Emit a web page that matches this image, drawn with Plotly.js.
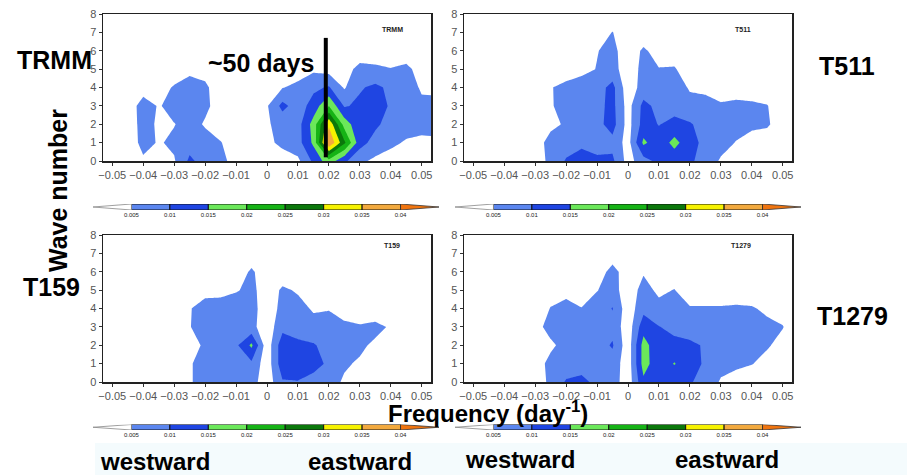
<!DOCTYPE html>
<html><head><meta charset="utf-8">
<script src="https://cdn.plot.ly/plotly-3.0.1.min.js"></script>
<style>html,body{margin:0;padding:0;background:#fff;}#chart{width:907px;height:475px;}</style>
</head><body><div id="chart"></div>
<script>
// ---------- data ----------
const freq = [-0.055,-0.05,-0.045,-0.04,-0.035,-0.03,-0.025,-0.02,-0.015,-0.01,-0.005,0,0.005,0.01,0.015,0.02,0.025,0.03,0.035,0.04,0.045,0.05,0.055];
const waveNumbers = [0,1,2,3,4,5,6,7,8];
const freqTickVals = [-0.05,-0.04,-0.03,-0.02,-0.01,0,0.01,0.02,0.03,0.04,0.05];
const freqTickText = ["\u22120.05","\u22120.04","\u22120.03","\u22120.02","\u22120.01","0","0.01","0.02","0.03","0.04","0.05"];
const waveTickVals = [0,1,2,3,4,5,6,7,8];
const levels = [0.005,0.01,0.015,0.02,0.025,0.03,0.035,0.04];
const levelLabels = ["0.005","0.01","0.015","0.02","0.025","0.03","0.035","0.04"];
const levelStep = 0.005;
const bandColors = ["#ffffff","#5b86ef","#1f45e2","#6be85a","#16b316","#0b780b","#f6f200","#f2a93e","#f0740f"];
const panelNames = ["TRMM","T511","T159","T1279"];
const markerFreq = 0.019;   // ~50 days line
const markerWave = [0.2, 6.7];

const powerTRMM = [
 [0.001,0.001,0.001,0.004,0.002,0.0045,0.011,0.008,0.0065,0.003,0.002,0.002,0.003,0.004,0.011,0.018,0.011,0.006,0.004,0.003,0.002,0.002,0.001],
 [0.001,0.001,0.001,0.007,0.0045,0.006,0.008,0.007,0.0052,0.003,0.002,0.004,0.006,0.008,0.016,0.04,0.026,0.012,0.008,0.006,0.0045,0.004,0.0045],
 [0.001,0.001,0.001,0.0075,0.004,0.0048,0.007,0.0045,0.003,0.002,0.002,0.0045,0.0065,0.008,0.017,0.034,0.018,0.011,0.011,0.008,0.007,0.0065,0.006],
 [0.001,0.001,0.001,0.008,0.0045,0.007,0.008,0.006,0.003,0.002,0.002,0.0045,0.0115,0.0075,0.012,0.02,0.0095,0.011,0.012,0.0095,0.007,0.0058,0.006],
 [0.001,0.001,0.001,0.002,0.003,0.0055,0.0075,0.006,0.002,0.001,0.001,0.002,0.0048,0.006,0.009,0.0105,0.0045,0.0095,0.011,0.009,0.007,0.0045,0.0042],
 [0.001,0.001,0.001,0.001,0.001,0.002,0.0035,0.003,0.001,0.001,0.001,0.001,0.002,0.003,0.004,0.003,0.003,0.0065,0.006,0.0052,0.0062,0.003,0.002],
 [0.001,0.001,0.001,0.001,0.001,0.001,0.001,0.001,0.001,0.001,0.001,0.001,0.001,0.001,0.002,0.002,0.002,0.002,0.002,0.002,0.002,0.002,0.001],
 [0.001,0.001,0.001,0.001,0.001,0.001,0.001,0.001,0.001,0.001,0.001,0.001,0.001,0.001,0.001,0.001,0.001,0.001,0.001,0.001,0.001,0.001,0.001],
 [0.001,0.001,0.001,0.001,0.001,0.001,0.001,0.001,0.001,0.001,0.001,0.001,0.001,0.001,0.001,0.001,0.001,0.001,0.001,0.001,0.001,0.001,0.001]
];
const powerT511 = [
 [0.001,0.001,0.001,0.001,0.002,0.003,0.006,0.0105,0.011,0.011,0.011,0.003,0.008,0.0115,0.012,0.011,0.0075,0.0045,0.003,0.002,0.001,0.001,0.001],
 [0.001,0.001,0.001,0.001,0.002,0.003,0.0065,0.0075,0.0095,0.008,0.0085,0.003,0.016,0.012,0.0165,0.012,0.0085,0.0065,0.0048,0.0035,0.003,0.002,0.001],
 [0.001,0.001,0.001,0.001,0.002,0.003,0.004,0.0055,0.007,0.0085,0.012,0.003,0.012,0.0098,0.0115,0.0105,0.008,0.007,0.0065,0.0058,0.0055,0.003,0.001],
 [0.001,0.001,0.001,0.001,0.002,0.003,0.0045,0.007,0.008,0.0085,0.0115,0.003,0.0115,0.0085,0.008,0.0065,0.0065,0.0055,0.006,0.006,0.0052,0.002,0.001],
 [0.001,0.001,0.001,0.001,0.002,0.003,0.0048,0.006,0.0075,0.008,0.0115,0.002,0.007,0.0075,0.0075,0.0045,0.004,0.003,0.003,0.002,0.002,0.001,0.001],
 [0.001,0.001,0.001,0.001,0.001,0.002,0.002,0.003,0.0035,0.0052,0.007,0.002,0.0065,0.0052,0.0055,0.002,0.002,0.002,0.002,0.001,0.001,0.001,0.001],
 [0.001,0.001,0.001,0.001,0.001,0.001,0.001,0.002,0.002,0.0048,0.0065,0.002,0.0058,0.003,0.002,0.001,0.001,0.001,0.001,0.001,0.001,0.001,0.001],
 [0.001,0.001,0.001,0.001,0.001,0.001,0.001,0.001,0.001,0.002,0.0052,0.001,0.002,0.001,0.001,0.001,0.001,0.001,0.001,0.001,0.001,0.001,0.001],
 [0.001,0.001,0.001,0.001,0.001,0.001,0.001,0.001,0.001,0.001,0.001,0.001,0.001,0.001,0.001,0.001,0.001,0.001,0.001,0.001,0.001,0.001,0.001]
];
const powerT159 = [
 [0.001,0.001,0.001,0.001,0.001,0.002,0.0045,0.007,0.008,0.008,0.007,0.002,0.0095,0.0098,0.008,0.0065,0.0045,0.002,0.001,0.001,0.001,0.001,0.001],
 [0.001,0.001,0.001,0.001,0.001,0.002,0.0045,0.007,0.008,0.0085,0.009,0.002,0.013,0.0125,0.012,0.009,0.0055,0.0045,0.002,0.001,0.001,0.001,0.001],
 [0.001,0.001,0.001,0.001,0.001,0.002,0.003,0.0058,0.0075,0.009,0.016,0.002,0.013,0.011,0.0105,0.008,0.0065,0.0058,0.0042,0.002,0.001,0.001,0.001],
 [0.001,0.001,0.001,0.001,0.001,0.002,0.0048,0.007,0.008,0.0085,0.0065,0.002,0.0085,0.008,0.0065,0.0065,0.006,0.0055,0.0062,0.0045,0.002,0.001,0.001],
 [0.001,0.001,0.001,0.001,0.001,0.002,0.0046,0.0075,0.008,0.0085,0.007,0.002,0.0065,0.0065,0.0045,0.0048,0.003,0.002,0.002,0.001,0.001,0.001,0.001],
 [0.001,0.001,0.001,0.001,0.001,0.001,0.002,0.003,0.003,0.0045,0.0065,0.002,0.0058,0.0045,0.002,0.002,0.001,0.001,0.001,0.001,0.001,0.001,0.001],
 [0.001,0.001,0.001,0.001,0.001,0.001,0.001,0.001,0.001,0.002,0.0058,0.002,0.002,0.001,0.001,0.001,0.001,0.001,0.001,0.001,0.001,0.001,0.001],
 [0.001,0.001,0.001,0.001,0.001,0.001,0.001,0.001,0.001,0.001,0.002,0.001,0.001,0.001,0.001,0.001,0.001,0.001,0.001,0.001,0.001,0.001,0.001],
 [0.001,0.001,0.001,0.001,0.001,0.001,0.001,0.001,0.001,0.001,0.001,0.001,0.001,0.001,0.001,0.001,0.001,0.001,0.001,0.001,0.001,0.001,0.001]
];
const powerT1279 = [
 [0.001,0.001,0.001,0.001,0.001,0.002,0.0062,0.0105,0.0115,0.0085,0.0075,0.002,0.014,0.012,0.011,0.0105,0.008,0.0045,0.003,0.002,0.001,0.001,0.001],
 [0.001,0.001,0.001,0.001,0.001,0.003,0.0062,0.0072,0.0075,0.0085,0.008,0.002,0.017,0.012,0.0153,0.0115,0.0095,0.0065,0.006,0.0052,0.0035,0.002,0.001],
 [0.001,0.001,0.001,0.001,0.001,0.003,0.0042,0.0065,0.0072,0.008,0.0105,0.002,0.017,0.0115,0.0115,0.011,0.0095,0.007,0.0068,0.0065,0.0055,0.0035,0.001],
 [0.001,0.001,0.001,0.001,0.002,0.0035,0.0065,0.0075,0.0075,0.008,0.0085,0.002,0.013,0.0102,0.0085,0.0075,0.007,0.0065,0.0068,0.0065,0.0062,0.0052,0.002],
 [0.001,0.001,0.001,0.001,0.001,0.002,0.0052,0.0072,0.0052,0.0075,0.0102,0.002,0.0085,0.0065,0.007,0.0055,0.0055,0.0055,0.0058,0.0055,0.004,0.003,0.001],
 [0.001,0.001,0.001,0.001,0.001,0.001,0.003,0.003,0.002,0.0048,0.0072,0.002,0.0068,0.004,0.0052,0.002,0.002,0.002,0.002,0.002,0.001,0.001,0.001],
 [0.001,0.001,0.001,0.001,0.001,0.001,0.001,0.001,0.001,0.002,0.007,0.002,0.0045,0.002,0.002,0.001,0.001,0.001,0.001,0.001,0.001,0.001,0.001],
 [0.001,0.001,0.001,0.001,0.001,0.001,0.001,0.001,0.001,0.001,0.002,0.001,0.001,0.001,0.001,0.001,0.001,0.001,0.001,0.001,0.001,0.001,0.001],
 [0.001,0.001,0.001,0.001,0.001,0.001,0.001,0.001,0.001,0.001,0.001,0.001,0.001,0.001,0.001,0.001,0.001,0.001,0.001,0.001,0.001,0.001,0.001]
];
const panelData = [powerTRMM, powerT511, powerT159, powerT1279];

// ---------- layout helpers (pixel -> paper) ----------
const W = 907, H = 475;
const px = v => v / W;
const py = v => 1 - v / H;
const FONT = "Liberation Sans, Arial, sans-serif";

// plot boxes in pixels [left, right, top, bottom]
const boxes = [[103,431,14,161],[464,792,14,161],[103,431,235,382],[464,792,235,382]];
// colorbar boxes in pixels [left tip, right tip, top, bottom]
const cbBoxes = [[93,439,204,210],[455,801,204,210],[93,439,424.5,430],[455,801,424.5,430]];

const colorscale = bandColors.map((c, i) => [i / (bandColors.length - 1), c]);
const mids = levels.slice(0, -1).map((l, i) => (l + levels[i + 1]) / 2);

const traces = [];
const layout = {
  width: W, height: H, autosize: false,
  margin: {l:0, r:0, t:0, b:0},
  paper_bgcolor: "#ffffff", plot_bgcolor: "#ffffff",
  showlegend: false,
  font: {family: FONT, color: "#000"},
  annotations: [], shapes: []
};

boxes.forEach((b, i) => {
  const n = i + 1;
  const xa = "x" + (n === 1 ? "" : n), ya = "y" + (n === 1 ? "" : n);
  traces.push({
    type: "contour", x: freq, y: waveNumbers, z: panelData[i],
    xaxis: xa, yaxis: ya,
    autocontour: false,
    contours: {start: levels[0], end: levels[levels.length - 1], size: levelStep, coloring: "fill", showlines: false},
    line: {width: 0, smoothing: 0},
    colorscale: colorscale, showscale: false, hoverinfo: "skip"
  });
  const axCommon = {
    showline: true, mirror: true, linecolor: "#222", linewidth: 1.5,
    ticks: "outside", ticklen: 3, tickcolor: "#333",
    showgrid: true, griddash: "dot", gridcolor: "#cfcfcf", gridwidth: 1,
    zeroline: false, tickfont: {size: 11, color: "#555", family: FONT}, fixedrange: true
  };
  layout["xaxis" + (n === 1 ? "" : n)] = Object.assign({}, axCommon, {
    domain: [px(b[0]), px(b[1])], range: [-0.053, 0.053], anchor: ya,
    tickmode: "array", tickvals: freqTickVals, ticktext: freqTickText, tickangle: 0
  });
  layout["yaxis" + (n === 1 ? "" : n)] = Object.assign({}, axCommon, {
    domain: [py(b[3]), py(b[2])], range: [0, 8], anchor: xa,
    tickmode: "array", tickvals: waveTickVals
  });
  // small in-plot label
  layout.annotations.push({xref: "paper", yref: "paper", x: px(b[1] - 39), y: py(b[2] + 10),
    text: "<b>" + panelNames[i] + "</b>", showarrow: false, font: {size: 7, color: "#222"}});
});

// colorbars
cbBoxes.forEach((c, i) => {
  const n = i + 5;
  const xa = "x" + n, ya = "y" + n;
  layout["xaxis" + n] = {domain: [px(c[0]), px(c[1])], range: [levels[0] - levelStep, levels[levels.length - 1] + levelStep],
    anchor: ya, tickmode: "array", tickvals: levels, ticktext: levelLabels, ticks: "", ticklen: 0,
    tickfont: {size: 6, color: "#222"}, showgrid: false, zeroline: false, showline: false, fixedrange: true, tickangle: 0};
  layout["yaxis" + n] = {domain: [py(c[3]), py(c[2])], range: [0, 1], anchor: xa, visible: false, fixedrange: true};
  traces.push({type: "bar", x: mids, y: mids.map(() => 1), width: levelStep, xaxis: xa, yaxis: ya,
    marker: {color: bandColors.slice(1, bandColors.length - 1), line: {color: "#111", width: 1}}, hoverinfo: "skip"});
  traces.push({type: "scatter", mode: "lines", x: [levels[0], levels[0] - levelStep, levels[0], levels[0]], y: [0, 0.5, 1, 0],
    fill: "toself", fillcolor: bandColors[0], line: {color: "#888", width: 0.8}, xaxis: xa, yaxis: ya, hoverinfo: "skip"});
  const last = levels[levels.length - 1];
  traces.push({type: "scatter", mode: "lines", x: [last, last + levelStep, last, last], y: [0, 0.5, 1, 0],
    fill: "toself", fillcolor: bandColors[bandColors.length - 1], line: {color: "#333", width: 0.8}, xaxis: xa, yaxis: ya, hoverinfo: "skip"});
});

// ~50 days marker line
layout.shapes.push({type: "line", xref: "x", yref: "y", x0: markerFreq, x1: markerFreq, y0: markerWave[0], y1: markerWave[1],
  line: {color: "#000", width: 4}, layer: "above"});
// faint bottom band
layout.shapes.push({type: "rect", xref: "paper", yref: "paper", x0: px(95), x1: 1, y0: 0, y1: py(443),
  fillcolor: "#f4fbfd", line: {width: 0}, layer: "below"});

const bigText = (t, x, y, size, extra) => Object.assign({xref: "paper", yref: "paper", x: px(x), y: py(y),
  text: "<b>" + t + "</b>", showarrow: false, font: {size: size, color: "#000", family: FONT},
  xanchor: "center", yanchor: "middle", borderpad: 0}, extra || {});
layout.annotations.push(bigText("TRMM", 54, 60, 25));
layout.annotations.push(bigText("~50 days", 261, 63, 25));
layout.annotations.push(bigText("T511", 847, 66, 25));
layout.annotations.push(bigText("T159", 51, 287, 25));
layout.annotations.push(bigText("T1279", 852, 316, 25));
layout.annotations.push(bigText("Wave number", 58, 191, 25, {textangle: -90}));
layout.annotations.push(bigText("Frequency (day<sup>-1</sup>)", 488, 412, 24));
layout.annotations.push(bigText("westward", 155, 461, 24));
layout.annotations.push(bigText("eastward", 360, 461, 24));
layout.annotations.push(bigText("westward", 520, 459, 24));
layout.annotations.push(bigText("eastward", 727, 459, 24));

Plotly.newPlot("chart", traces, layout, {staticPlot: true, displayModeBar: false});
</script></body></html>
